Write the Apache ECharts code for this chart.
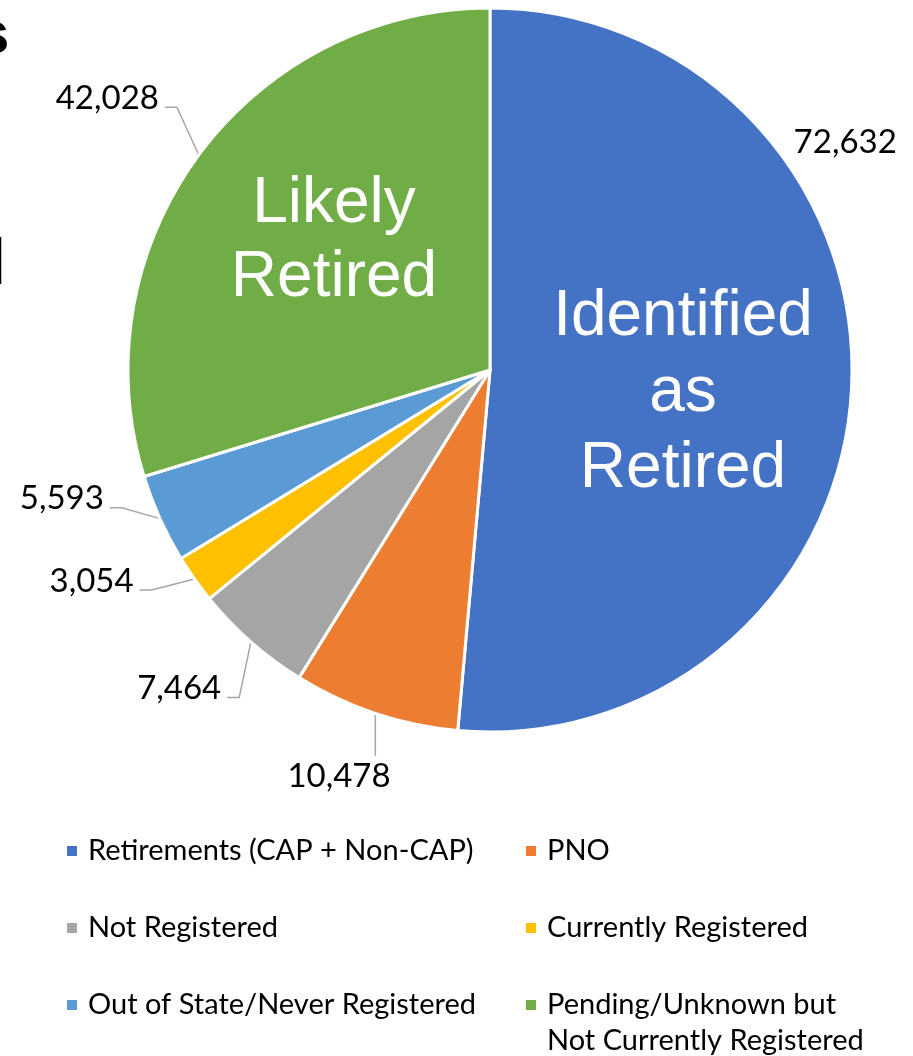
<!DOCTYPE html>
<html>
<head>
<meta charset="utf-8">
<script src="https://cdn.jsdelivr.net/npm/echarts@6/dist/echarts.min.js"></script>
<style>
  html, body { margin: 0; padding: 0; background: #fff; }
  #main { width: 913px; height: 1056px; }
</style>
</head>
<body>
<div id="main"></div>
<script>
var categories = [
    'Retirements (CAP + Non-CAP)',
    'PNO',
    'Not Registered',
    'Currently Registered',
    'Out of State/Never Registered',
    'Pending/Unknown but Not Currently Registered'
];
var values = [72632, 10478, 7464, 3054, 5593, 42028];
var colors = ['#4472C4', '#ED7D31', '#A5A5A5', '#FFC000', '#5B9BD5', '#70AD47'];
// leader line lengths per slice [length, length2]
var lineLens = [[20, 25], [40, 10], [45, 12], [12, 22], [10, 20], [62, 10]];
// small nudges so labels sit like the Excel "best fit" ones
var labelNudge = [[-108, -245], [43, 25], [17, 13], [-24, -5], [-22, -24], [25, -20]];

var chart = echarts.init(document.getElementById('main'));

var bigText = 'normal 64px "Liberation Sans"';

var option = {
    color: colors,
    legend: {
        left: 65,
        top: 833,
        width: 845,
        padding: 0,
        itemWidth: 12,
        itemHeight: 12,
        itemGap: 41,
        icon: 'rect',
        textStyle: {
            fontFamily: 'Lato',
            fontSize: 29,
            color: '#000',
            lineHeight: 36,
            padding: [0, 0, 0, 5]
        },
        formatter: function (name) {
            if (name === categories[5]) return '\nPending/Unknown but\nNot Currently Registered';
            return name;
        },
        data: categories.map(function (c, i) {
            if (i === 5) return { name: c, textStyle: { width: 340 } };
            return { name: c, textStyle: { width: i % 2 === 0 ? 395 : 300 } };
        })
    },
    graphic: [
        { type: 'text', z: 100, left: -24, top: 6, style: { text: 's', font: 'bold 60px "Liberation Sans"', fill: '#000' } },
        { type: 'text', z: 100, left: -12, top: 234, style: { text: 'l', font: 'bold 64px "Liberation Sans"', fill: '#000' } },
        { type: 'text', z: 100, x: 334, y: 241, style: { text: 'Likely\nRetired', font: bigText, fill: '#fff', align: 'center', verticalAlign: 'middle', lineHeight: 74 } },
        { type: 'text', z: 100, x: 683, y: 393, style: { text: 'Identified\nas\nRetired', font: bigText, fill: '#fff', align: 'center', verticalAlign: 'middle', lineHeight: 76 } }
    ],
    series: [{
        type: 'pie',
        center: [490, 370],
        radius: 362,
        startAngle: 90,
        clockwise: true,
        animation: false,
        itemStyle: { borderColor: '#fff', borderWidth: 3 },
        label: {
            show: true,
            position: 'outside',
            fontFamily: 'Lato',
            fontSize: 33,
            color: '#000',
            overflow: 'none',
            formatter: function (p) { return p.value.toLocaleString('en-US'); }
        },
        labelLine: {
            show: true,
            lineStyle: { color: '#A6A6A6', width: 1.5 }
        },
        labelLayout: function (p) {
            var n = labelNudge[p.dataIndex];
            var out = { dx: n[0], dy: n[1] };
            var pts = p.labelLinePoints;
            if (!pts || !pts.length) return out;
            var r = p.labelRect;
            var x = r.x + n[0], y = r.y + n[1];
            var p0 = pts[0], mid, end;
            if (p.dataIndex === 1) {
                // label sits under the slice: straight drop
                end = [p0[0], y - 4];
                mid = end;
            } else {
                var ly = y + r.height / 2 + 9;
                end = [x + r.width + 6, ly];
                mid = [end[0] + 12, ly];
            }
            out.labelLinePoints = [p0, mid, end];
            return out;
        },
        data: categories.map(function (c, i) {
            var d = {
                name: c,
                value: values[i],
                labelLine: { length: lineLens[i][0], length2: lineLens[i][1] }
            };
            if (i === 0) d.labelLine.show = false;
            return d;
        })
    }]
};

chart.setOption(option);
</script>
</body>
</html>
